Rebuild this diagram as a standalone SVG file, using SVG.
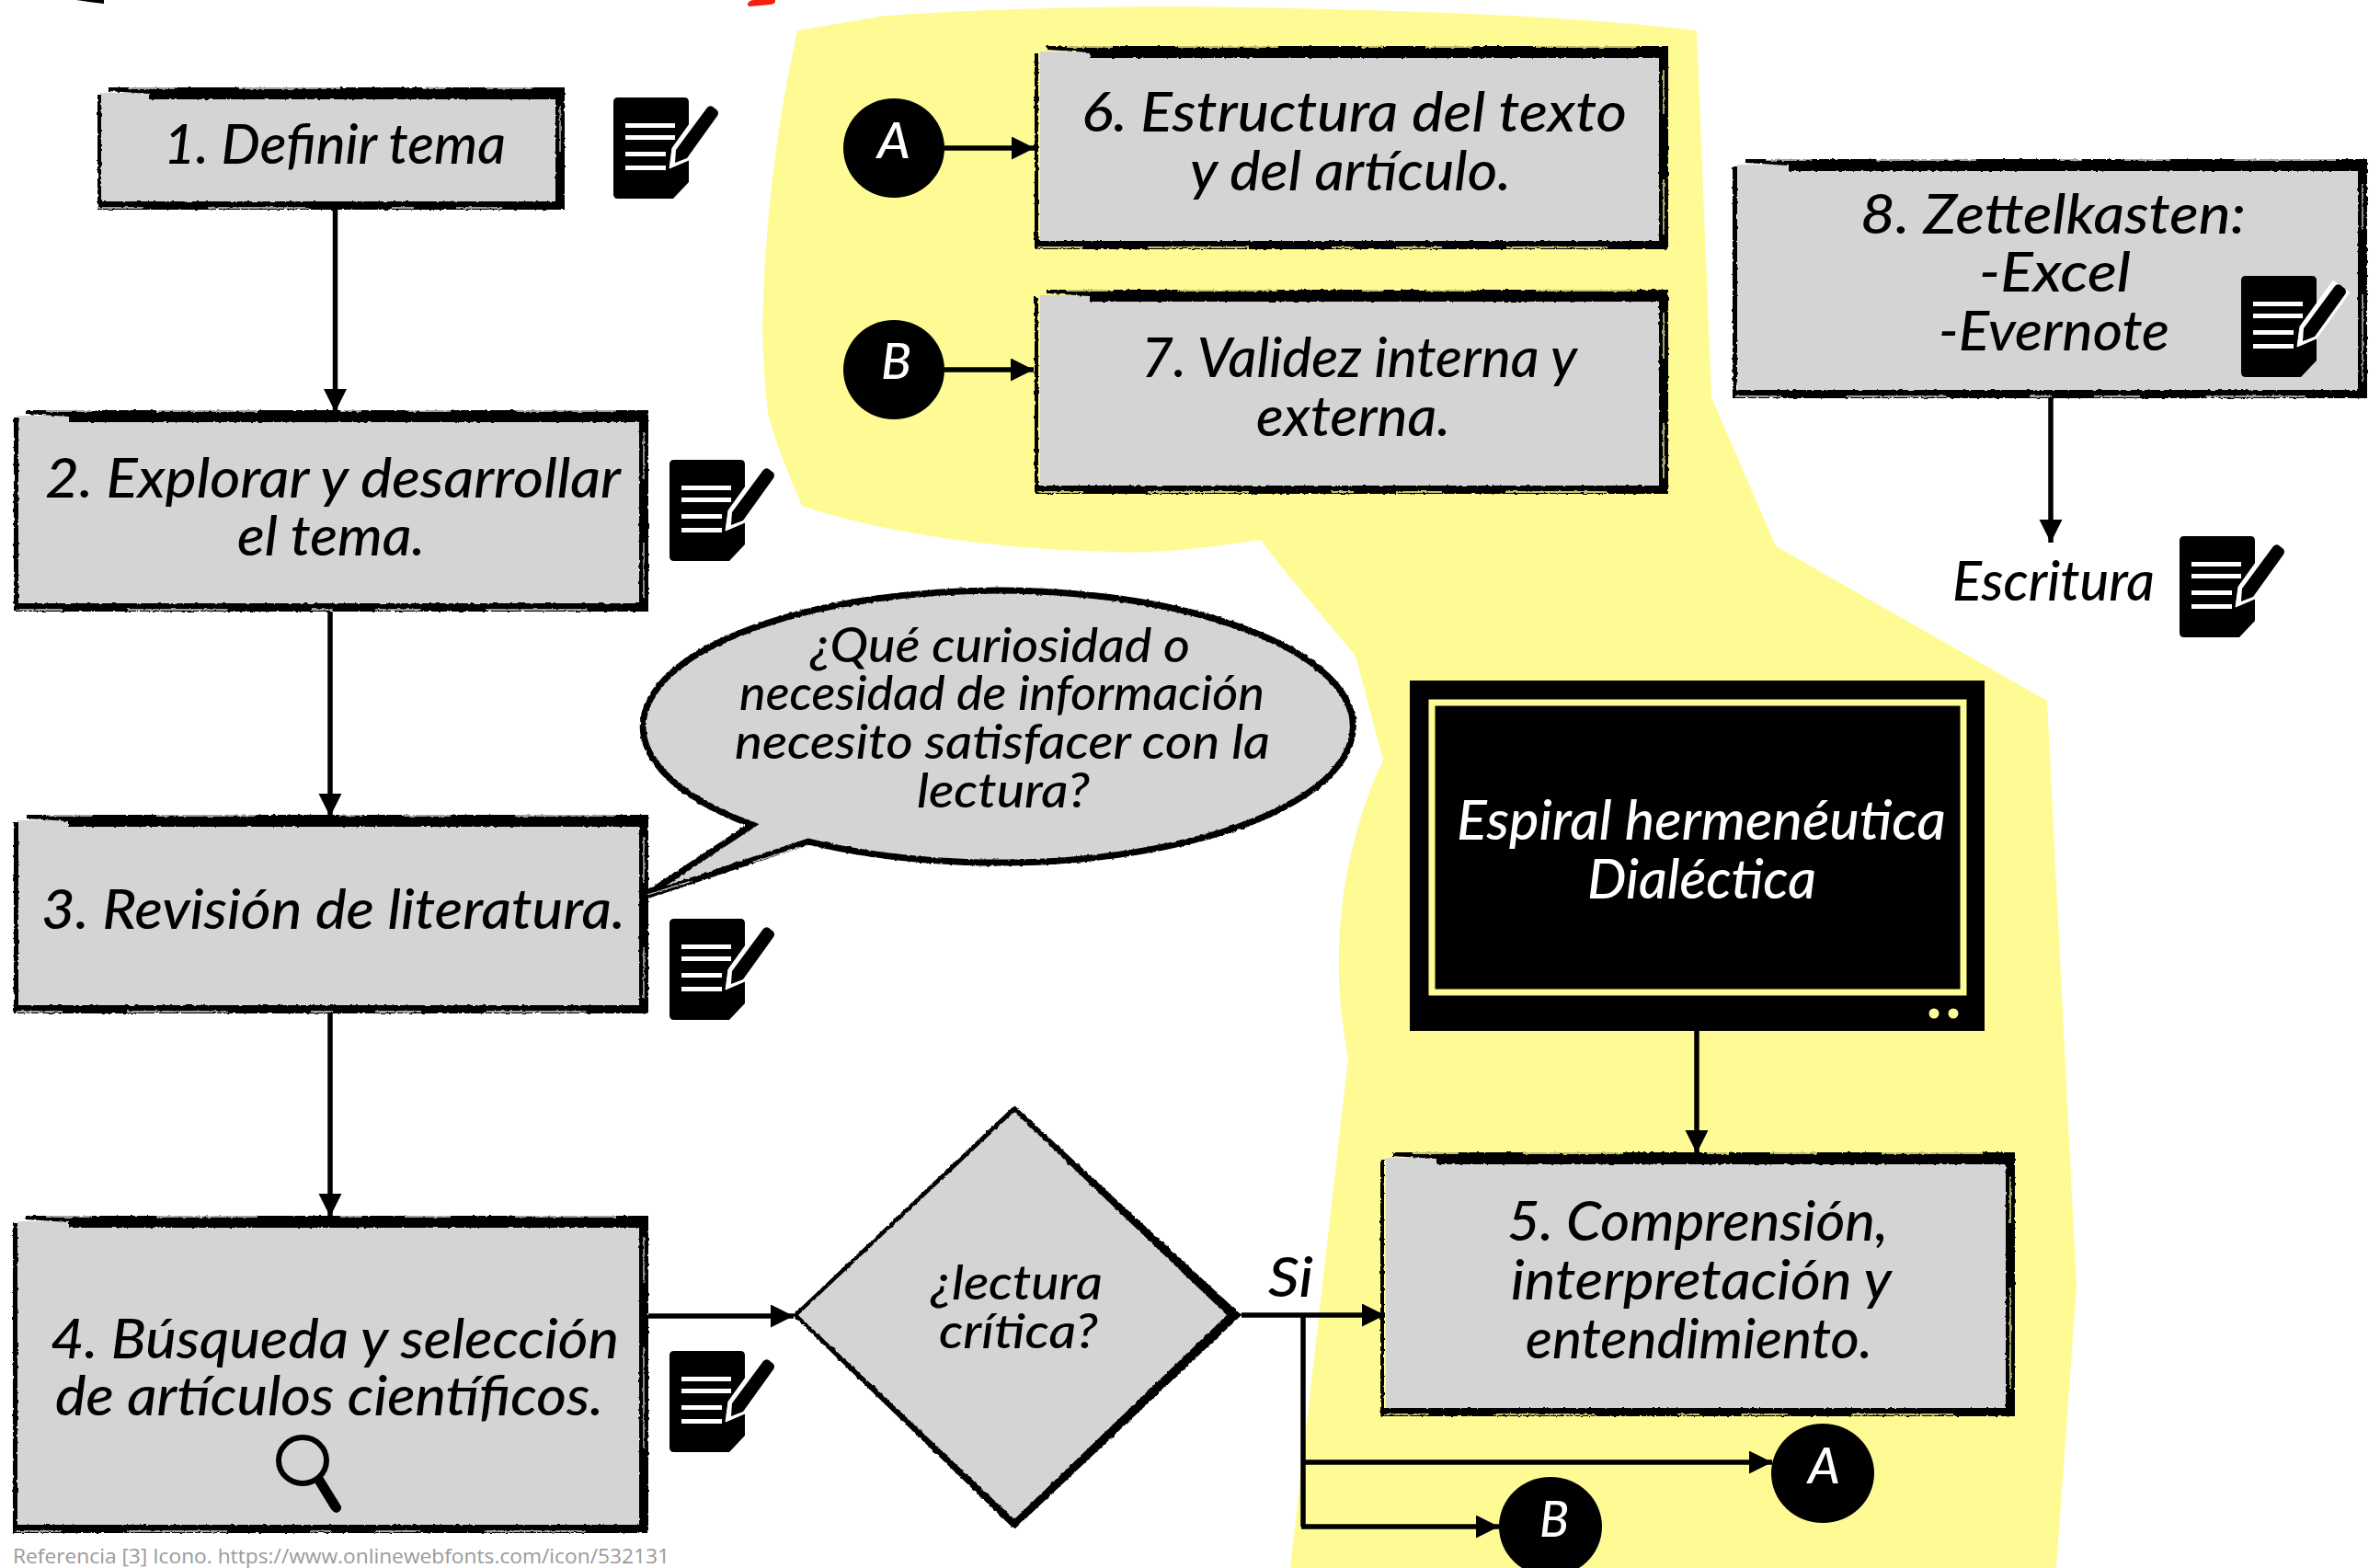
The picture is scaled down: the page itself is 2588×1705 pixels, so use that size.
<svg xmlns="http://www.w3.org/2000/svg" width="2588" height="1705" viewBox="0 0 2588 1705">
<style>
text{font-family:"Lato","Open Sans","Liberation Sans",sans-serif;font-style:italic;font-weight:500;fill:#000;font-size:60px}
.s{font-size:52px}
.w{fill:#fff}
.d{font-size:55px;font-weight:500;fill:#fff}
.foot{font-family:"Open Sans","Liberation Sans",sans-serif;font-style:normal;font-weight:400;font-size:22px;fill:#9a9a9a}
.g{fill:#d4d4d4}
.ink{fill:#000;fill-rule:evenodd;filter:url(#rough)}
.sc{fill:none;stroke:#d4d4d4;stroke-width:1.3;stroke-dasharray:50 70 110 90 24 46;filter:url(#rough)}
.y{stroke:#fffb94}
.c{fill:#000}
.conn{fill:none;stroke:#000;stroke-width:5.500}
.arr{marker-end:url(#head)}
</style>
<defs>
<filter id="rough" x="-3%" y="-5%" width="106%" height="110%">
<feTurbulence type="fractalNoise" baseFrequency="0.22" numOctaves="2" seed="4" result="n"/>
<feDisplacementMap in="SourceGraphic" in2="n" scale="3" xChannelSelector="R" yChannelSelector="G"/>
</filter>
<marker id="head" markerUnits="userSpaceOnUse" markerWidth="26" markerHeight="26" refX="25" refY="12.5" orient="auto">
<path d="M0 0L25 12.5L0 25Z" fill="#000"/>
</marker>
<symbol id="note" width="118" height="112" viewBox="0 0 118 112" overflow="visible">
<path d="M5 0H77Q82 0 82 5V92L65 110H5Q0 110 0 105V5Q0 0 5 0Z" fill="#000"/>
<path d="M13 28H67V33H13ZM13 41H67V46H13ZM13 59H57V64H13ZM13 74H57V79H13Z" fill="#fff"/>
<path d="M61 77L64 55L100 5L118 18L82 68Z" fill="#fff" stroke="#fff" stroke-width="1" stroke-linejoin="round"/>
<path d="M67 71L68 57L102 11Q105 8 108 10L113 14Q115 17 113 20L80 66Z" fill="#000"/>
</symbol>
</defs>

<rect width="2588" height="1705" fill="#fff"/>
<path id="bg-fragment-black" d="M83 0H113V4L100 2.500Z" fill="#000"/>
<path id="bg-fragment-red" d="M813 4Q815 0 820 0H843Q844 4 838 5L815 7Q813 7 813 4Z" fill="#f3200c"/>
<path id="highlight" fill="#fffb94" d="M867 33L963 17C1100 8 1250 5 1400 9C1600 13 1730 20 1845 33L1861 432L1931 594L2226 762L2258 1400L2236 1705H1403L1466 1150C1456 1100 1452 1040 1460 980C1468 920 1485 865 1504 827L1474 713C1430 660 1395 620 1371 587C1310 596 1260 602 1208 600C1090 598 960 580 872 550C855 510 843 480 835 449C830 400 828 360 830 332C833 220 848 120 867 33Z"/>

<g id="connectors">
<path class="conn arr" d="M364.500 228V448"/>
<path class="conn arr" d="M359 665V888"/>
<path class="conn arr" d="M359 1102V1323"/>
<path class="conn arr" d="M705 1431H863"/>
<path class="conn arr" d="M1350 1430H1506"/>
<path class="conn" d="M1417 1430V1660"/>
<path class="conn arr" d="M1417 1590H1927"/>
<path class="conn arr" d="M1415 1660H1630"/>
<path class="conn arr" d="M1027 161H1125"/>
<path class="conn arr" d="M1027 402H1124"/>
<path class="conn arr" d="M1845 1121V1254"/>
<path class="conn arr" d="M2230 433V590"/>
</g>

<g id="node1">
<rect class="g" x="109" y="101" width="497" height="120"/>
<path class="ink" d="M118 95H614V228H106V103H110V219H604V108H162V102L118 99Z"/>
<path class="sc" d="M140 96H612M106 226H612M609 115V215"/>
<text x="178" y="178" textLength="372" lengthAdjust="spacingAndGlyphs">1. Definir tema</text>
</g>
<use id="note1" href="#note" x="667" y="106"/>

<g id="node2">
<rect class="g" x="19" y="452" width="678" height="206"/>
<path class="ink" d="M28 446H705V665H15V454H20V656H695V459H75V453L28 450Z"/>
<path class="sc" d="M50 447H703M18 663H703M700 470V650"/>
<text x="49" y="541" textLength="626" lengthAdjust="spacingAndGlyphs">2. Explorar y desarrollar</text>
<text x="258" y="604" textLength="204" lengthAdjust="spacingAndGlyphs">el tema.</text>
</g>
<use id="note2" href="#note" x="728" y="500"/>

<g id="node3">
<rect class="g" x="19" y="892" width="678" height="204"/>
<path class="ink" d="M28 886H705V1102H15V894H20V1093H695V899H75V893L28 890Z"/>
<path class="sc" d="M50 887H703M18 1100H703M700 910V1085"/>
<text x="45" y="1010" textLength="635" lengthAdjust="spacingAndGlyphs">3. Revisión de literatura.</text>
</g>
<use id="note3" href="#note" x="728" y="999"/>

<g id="node4">
<rect class="g" x="19" y="1328" width="678" height="332"/>
<path class="ink" d="M28 1322H705V1667H14V1330H19V1658H695V1335H75V1329L28 1326Z"/>
<path class="sc" d="M50 1323H703M17 1665H703M700 1345V1650"/>
<text x="55" y="1477" textLength="618" lengthAdjust="spacingAndGlyphs">4. Búsqueda y selección</text>
<text x="60" y="1539" textLength="596" lengthAdjust="spacingAndGlyphs">de artículos científicos.</text>
<ellipse cx="329" cy="1588" rx="26" ry="25" fill="none" stroke="#000" stroke-width="6"/>
<path d="M341 1610L350 1604L371 1638Q372 1643 366 1645Q362 1644 360 1641Z" fill="#000"/>
</g>
<use id="note4" href="#note" x="728" y="1469"/>

<g id="node6">
<rect class="g" x="1131" y="56" width="675" height="208"/>
<path class="ink" d="M1138 50H1814V271H1125V58H1129V262H1804V63H1185V57L1138 54Z"/>
<path class="sc y" d="M1160 51H1812M1128 269H1812M1809 75V255"/>
<text x="1176" y="143" textLength="593" lengthAdjust="spacingAndGlyphs">6. Estructura del texto</text>
<text x="1294" y="207" textLength="349" lengthAdjust="spacingAndGlyphs">y del artículo.</text>
</g>

<g id="node7">
<rect class="g" x="1131" y="321" width="675" height="209"/>
<path class="ink" d="M1138 315H1814V537H1125V323H1129V528H1804V328H1185V322L1138 319Z"/>
<path class="sc y" d="M1160 316H1812M1128 535H1812M1809 340V520"/>
<text x="1241" y="410" textLength="474" lengthAdjust="spacingAndGlyphs">7. Validez interna y</text>
<text x="1366" y="474" textLength="211" lengthAdjust="spacingAndGlyphs">externa.</text>
</g>

<g id="node8">
<rect class="g" x="1889" y="179" width="677" height="247"/>
<path class="ink" d="M1898 173H2574V433H1884V181H1889V424H2564V186H1945V180L1898 177Z"/>
<path class="sc" d="M1920 174H2572M1887 431H2572M2569 200V415"/>
<text x="2023" y="254" textLength="419" lengthAdjust="spacingAndGlyphs">8. Zettelkasten:</text>
<text x="2152" y="317" textLength="165" lengthAdjust="spacingAndGlyphs">-Excel</text>
<text x="2108" y="381" textLength="251" lengthAdjust="spacingAndGlyphs">-Evernote</text>
<use href="#note" x="2437" y="300"/>
</g>

<g id="escritura">
<text x="2123" y="653" textLength="220" lengthAdjust="spacingAndGlyphs">Escritura</text>
<use href="#note" x="2370" y="583"/>
</g>

<g id="node5">
<rect class="g" x="1507" y="1259" width="676" height="274"/>
<path class="ink" d="M1514 1253H2191V1540H1501V1261H1505V1531H2181V1266H1562V1260L1514 1257Z"/>
<path class="sc y" d="M1536 1254H2189M1504 1538H2188M2186 1280V1520"/>
<text x="1639" y="1349" textLength="414" lengthAdjust="spacingAndGlyphs">5. Comprensión,</text>
<text x="1643" y="1413" textLength="414" lengthAdjust="spacingAndGlyphs">interpretación y</text>
<text x="1659" y="1477" textLength="377" lengthAdjust="spacingAndGlyphs">entendimiento.</text>
</g>

<g id="tv">
<rect x="1533" y="740" width="625" height="381" fill="#000"/>
<rect x="1557" y="764" width="578" height="315" fill="none" stroke="#fffb94" stroke-width="7"/>
<circle cx="2103" cy="1102" r="5.500" fill="#fffb94"/>
<circle cx="2124" cy="1102" r="5.500" fill="#fffb94"/>
<text class="w" x="1584" y="913" textLength="532" lengthAdjust="spacingAndGlyphs">Espiral hermenéutica</text>
<text class="w" x="1726" y="977" textLength="249" lengthAdjust="spacingAndGlyphs">Dialéctica</text>
</g>

<g id="bubble">
<path d="M818 896.880A386 148 0 1 1 879 915.190L700 975Z" fill="#d4d4d4" stroke="#000" stroke-width="7" stroke-linejoin="miter" style="filter:url(#rough)"/>
<path class="sc" d="M704 973L878 919"/>
<text class="s" x="881" y="720" textLength="413" lengthAdjust="spacingAndGlyphs">¿Qué curiosidad o</text>
<text class="s" x="804" y="772" textLength="571" lengthAdjust="spacingAndGlyphs">necesidad de información</text>
<text class="s" x="799" y="825" textLength="582" lengthAdjust="spacingAndGlyphs">necesito satisfacer con la</text>
<text class="s" x="997" y="878" textLength="188" lengthAdjust="spacingAndGlyphs">lectura?</text>
</g>

<g id="decision">
<path class="g" d="M866 1430L1103 1208L1342 1430L1103 1656Z"/>
<path class="ink" d="M862 1430L1103 1202L1350 1430L1103 1663ZM868 1430L1103 1652L1334 1430L1103 1209Z"/>
<text class="s" x="1012" y="1413" textLength="187" lengthAdjust="spacingAndGlyphs">¿lectura</text>
<text class="s" x="1021" y="1466" textLength="173" lengthAdjust="spacingAndGlyphs">crítica?</text>
</g>

<text id="label-si" x="1379" y="1410" textLength="49" lengthAdjust="spacingAndGlyphs">Si</text>

<g id="connA-top"><ellipse class="c" cx="972" cy="161" rx="55" ry="54"/><text class="d" x="954" y="172" textLength="36" lengthAdjust="spacingAndGlyphs">A</text></g>
<g id="connB-top"><ellipse class="c" cx="972" cy="402" rx="55" ry="54"/><text class="d" x="958" y="412" textLength="33" lengthAdjust="spacingAndGlyphs">B</text></g>
<g id="connA-bottom"><ellipse class="c" cx="1982" cy="1602" rx="56" ry="54"/><text class="d" x="1966" y="1613" textLength="35" lengthAdjust="spacingAndGlyphs">A</text></g>
<g id="connB-bottom"><ellipse class="c" cx="1686" cy="1660" rx="56" ry="54"/><text class="d" x="1674" y="1671" textLength="32" lengthAdjust="spacingAndGlyphs">B</text></g>

<text class="foot" id="footnote" x="14" y="1700" textLength="714" lengthAdjust="spacingAndGlyphs">Referencia [3] Icono. https://www.onlinewebfonts.com/icon/532131</text>
</svg>
